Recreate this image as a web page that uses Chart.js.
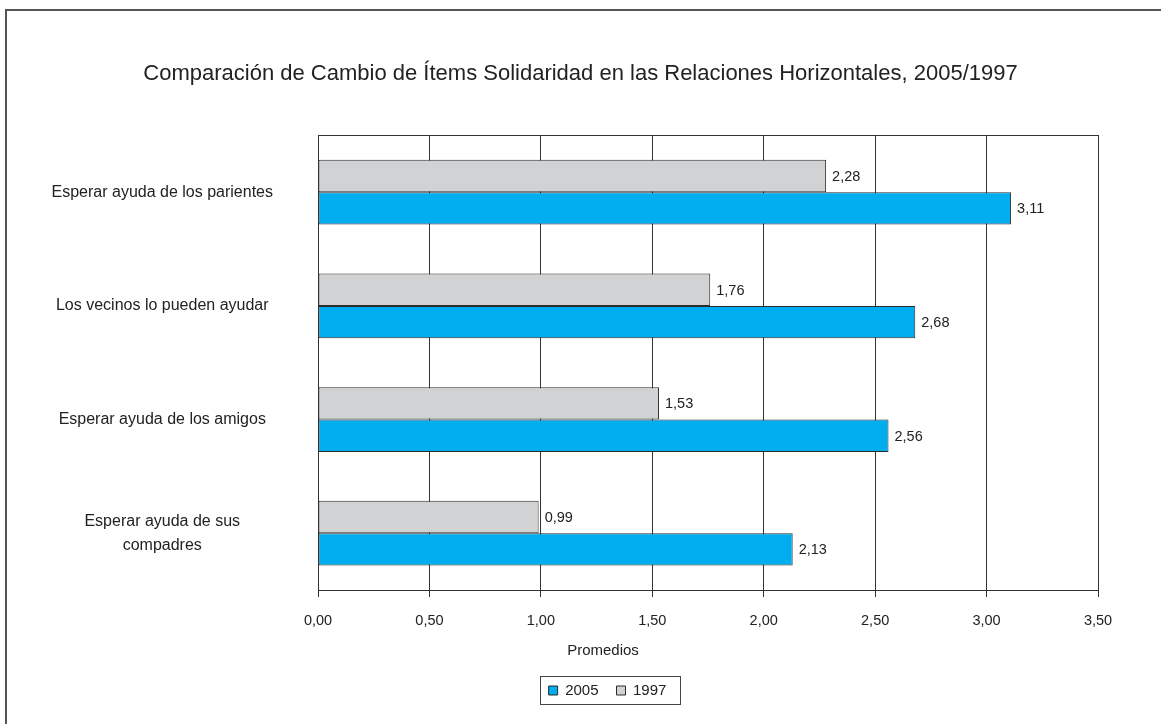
<!DOCTYPE html>
<html>
<head>
<meta charset="utf-8">
<script src="https://cdn.jsdelivr.net/npm/chart.js@4.4.0/dist/chart.umd.min.js"></script>
<style>
  html, body { margin: 0; padding: 0; background: #fff; overflow: hidden; }
  #frame { position: absolute; left: 5px; top: 9px; width: 1300px; height: 900px; border: 2px solid #555; }
  #wrap { position: absolute; left: 0; top: 0; width: 1161px; height: 724px; }
</style>
</head>
<body>
<div id="frame"></div>
<div id="wrap"><canvas id="myChart"></canvas></div>
<script>
const categories = [
  "Esperar ayuda de los parientes",
  "Los vecinos lo pueden ayudar",
  "Esperar ayuda de los amigos",
  ["Esperar ayuda de sus", "compadres"]
];
const values1997 = [2.28, 1.76, 1.53, 0.99];
const values2005 = [3.11, 2.68, 2.56, 2.13];
const xMin = 0;
const xMax = 3.5;
const xStep = 0.5;
const chartTitle = "Comparación de Cambio de Ítems Solidaridad en las Relaciones Horizontales, 2005/1997";
const axisTitle = "Promedios";

const fmt = (v) => v.toFixed(2).replace('.', ',');
const family = '"Liberation Sans", Arial, sans-serif';

Chart.defaults.font.family = family;
Chart.defaults.color = '#222';

// value labels at the end of each bar
const barLabels = {
    id: 'barLabels',
    afterDatasetsDraw(chart) {
        const ctx = chart.ctx;
        ctx.save();
        ctx.font = '14.5px ' + family;
        ctx.fillStyle = '#222';
        ctx.textAlign = 'left';
        ctx.textBaseline = 'middle';
        chart.data.datasets.forEach((ds, i) => {
            chart.getDatasetMeta(i).data.forEach((bar, j) => {
                ctx.fillText(fmt(ds.data[j]), bar.x + 6, bar.y + 1);
            });
        });
        ctx.restore();
    }
};

// frame round the plot, axis title, box round the legend
const extras = {
    id: 'extras',
    afterLayout(chart) {
        // legend sits under the middle of the plot block, not the canvas
        chart.legend.left += 27;
        chart.legend.right += 27;
        // let the category labels use the margin (labels are clipped to the axis box)
        chart.scales.y.left = 10;
    },
    afterDraw(chart) {
        const ctx = chart.ctx;
        const a = chart.chartArea;
        ctx.save();
        ctx.strokeStyle = '#333';
        ctx.lineWidth = 1;
        ctx.strokeRect(Math.round(a.left) + 0.5, Math.round(a.top) + 0.5,
            Math.round(a.right - a.left), Math.round(a.bottom - a.top));

        ctx.font = '15px ' + family;
        ctx.fillStyle = '#222';
        ctx.textAlign = 'center';
        ctx.textBaseline = 'middle';
        ctx.fillText(axisTitle, 603, 651);

        const boxes = chart.legend.legendHitBoxes;
        let l = Infinity, r = -Infinity, t = Infinity, b = -Infinity;
        boxes.forEach(h => {
            l = Math.min(l, h.left); r = Math.max(r, h.left + h.width);
            t = Math.min(t, h.top); b = Math.max(b, h.top + h.height);
        });
        ctx.strokeStyle = '#444';
        ctx.strokeRect(Math.round(l - 9) + 0.5, Math.round(t - 7) + 0.5,
            Math.round(r - l + 22), Math.round(b - t + 13));
        ctx.restore();
    }
};

var ctx = document.getElementById("myChart").getContext("2d");
var myChart = new Chart(ctx, {
    type: 'bar',
    data: {
        labels: categories,
        datasets: [{
            label: "1997",
            data: values1997,
            backgroundColor: "#d1d2d4",
            borderColor: "#2b2b2b",
            borderWidth: 1,
            borderSkipped: false
        }, {
            label: "2005",
            data: values2005,
            backgroundColor: "#00adee",
            borderColor: "#2b2b2b",
            borderWidth: 1,
            borderSkipped: false
        }]
    },
    options: {
        indexAxis: 'y',
        responsive: true,
        maintainAspectRatio: false,
        animation: false,
        categoryPercentage: 0.57,
        barPercentage: 1,
        layout: {
            padding: { top: 0, left: 63, right: 63, bottom: 16 }
        },
        scales: {
            x: {
                min: xMin,
                max: xMax,
                ticks: {
                    stepSize: xStep,
                    padding: 15,
                    font: { size: 14.5 },
                    callback: (v) => fmt(v)
                },
                grid: { color: '#333', tickLength: 7 },
                border: { color: '#333' },
                afterFit: (scale) => { scale.height = 75; }
            },
            y: {
                ticks: {
                    crossAlign: 'center',
                    padding: 37,
                    font: { size: 16, lineHeight: 1.5 }
                },
                grid: { display: false },
                border: { color: '#333' },
                afterFit: (scale) => { scale.width = 255; }
            }
        },
        plugins: {
            title: {
                display: true,
                text: chartTitle,
                color: '#222',
                font: { size: 22, weight: 'normal' },
                padding: { top: 61, bottom: 48 }
            },
            legend: {
                position: 'bottom',
                reverse: true,
                labels: {
                    boxWidth: 9,
                    boxHeight: 9,
                    padding: 18,
                    color: '#222',
                    font: { size: 15 }
                }
            },
            tooltip: { enabled: false }
        }
    },
    plugins: [barLabels, extras]
});
</script>
</body>
</html>
